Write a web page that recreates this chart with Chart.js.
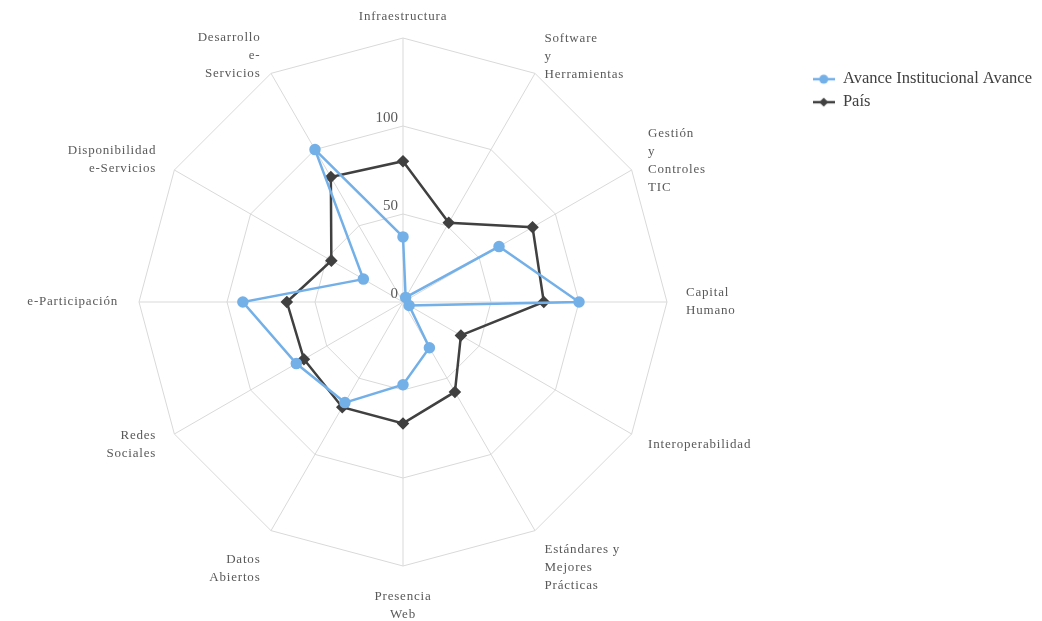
<!DOCTYPE html>
<html>
<head>
<meta charset="utf-8">
<script src="https://cdn.jsdelivr.net/npm/chart.js@4"></script>
<style>
  html, body { margin: 0; padding: 0; background: #fff; }
  #wrap { width: 1042px; height: 621px; position: relative; }
</style>
</head>
<body>
<div id="wrap"><canvas id="radarChart"></canvas></div>
<script>
// categories and series
const categories = [
    'Infraestructura',
    ['Software', 'y', 'Herramientas'],
    ['Gestión', 'y', 'Controles', 'TIC'],
    ['Capital', 'Humano'],
    'Interoperabilidad',
    ['Estándares y', 'Mejores', 'Prácticas'],
    ['Presencia', 'Web'],
    ['Datos', 'Abiertos'],
    ['Redes', 'Sociales'],
    'e-Participación',
    ['Disponibilidad', 'e-Servicios'],
    ['Desarrollo', 'e-', 'Servicios']
];
const avanceInstitucional = [37, 3, 63, 100, 4, 30, 47, 66, 70, 91, 26, 100];
const pais = [80, 52, 85, 80, 38, 59, 69, 69, 65, 66, 47, 82];
const tickValues = [0, 50, 100];

const blue = '#74b0e8';
const dark = '#404040';
const serif = "'Liberation Serif', 'DejaVu Serif', serif";

// small legend marker: line with the point style on it
function legendIcon(color, style) {
    const c = document.createElement('canvas');
    c.width = 22; c.height = 12;
    const g = c.getContext('2d');
    g.strokeStyle = color; g.fillStyle = color; g.lineWidth = 2.5;
    g.beginPath(); g.moveTo(0, 6); g.lineTo(22, 6); g.stroke();
    g.beginPath();
    if (style === 'circle') {
        g.arc(11, 6, 4.5, 0, Math.PI * 2);
    } else {
        g.moveTo(11, 1.5); g.lineTo(15.5, 6); g.lineTo(11, 10.5); g.lineTo(6.5, 6); g.closePath();
    }
    g.fill();
    return c;
}

// tick labels left of the vertical axis and the category labels around the web
const labelsPlugin = {
    id: 'radarLabels',
    afterDatasetsDraw(chart) {
        const scale = chart.scales.r;
        const ctx = chart.ctx;
        ctx.save();
        ctx.font = '15px ' + serif;
        ctx.fillStyle = '#595959';
        ctx.textAlign = 'right';
        ctx.textBaseline = 'middle';
        tickValues.forEach(v => {
            const d = scale.getDistanceFromCenterForValue(v);
            ctx.fillText(String(v), scale.xCenter - 5, scale.yCenter - d - 8);
        });

        ctx.font = '13px ' + serif;
        ctx.letterSpacing = '0.8px';
        const lineH = 18;
        const n = categories.length;
        categories.forEach((lab, i) => {
            const lines = Array.isArray(lab) ? lab : [lab];
            const dx0 = scale.getPointPosition(i, 100).x - scale.xCenter;
            const left = dx0 < -5;
            const pad = left ? 21 : 19;
            const p = scale.getPointPosition(i, scale.drawingArea + pad);
            const deg = (360 / n) * i;
            const dx = p.x - scale.xCenter;
            const dy = p.y - scale.yCenter;
            ctx.textAlign = dx > 5 ? 'left' : (dx < -5 ? 'right' : 'center');
            const h = lines.length * lineH;
            let top;
            if (deg === 0) top = p.y - h + 7;
            else if (deg === 180) top = p.y + 3;
            else if (Math.abs(deg - 180) <= 30) top = p.y + 20 - h / 2;
            else if (dy < -5) top = p.y - h / 2 + (left ? 0.5 : 0);
            else if (dy > 5) top = p.y - h / 2 + (left ? 0 : 1);
            else top = p.y - h / 2;
            lines.forEach((t, k) => {
                ctx.fillText(t, p.x, top + lineH * k + lineH / 2);
            });
        });
        ctx.restore();
    }
};

function initializeRadarChart() {
    const ctx = document.getElementById('radarChart').getContext('2d');

    const data = {
        labels: categories,
        datasets: [{
            label: 'Avance Institucional Avance',
            data: avanceInstitucional,
            borderColor: blue,
            backgroundColor: blue,
            pointBackgroundColor: blue,
            pointBorderColor: blue,
            pointStyle: 'circle',
            pointRadius: 4.5,
            borderWidth: 2.5,
            fill: false
        }, {
            label: 'País',
            data: pais,
            borderColor: dark,
            backgroundColor: dark,
            pointBackgroundColor: dark,
            pointBorderColor: dark,
            pointStyle: 'rectRot',
            pointRadius: 4.5,
            borderWidth: 2.5,
            fill: false
        }]
    };

    const config = {
        type: 'radar',
        data: data,
        plugins: [labelsPlugin],
        options: {
            responsive: true,
            maintainAspectRatio: false,
            animation: false,
            layout: {
                padding: { top: 38, bottom: 55, left: -9, right: 0 }
            },
            plugins: {
                legend: {
                    position: 'right',
                    align: 'start',
                    title: {
                        display: true,
                        text: ' ',
                        padding: 6
                    },
                    labels: {
                        color: '#404040',
                        font: { family: serif, size: 16.5 },
                        usePointStyle: true,
                        pointStyleWidth: 22,
                        padding: 6.5,
                        generateLabels(chart) {
                            return chart.data.datasets.map((ds, i) => ({
                                text: ds.label,
                                fontColor: '#404040',
                                pointStyle: legendIcon(ds.borderColor, ds.pointStyle),
                                hidden: false,
                                datasetIndex: i,
                                lineWidth: 0,
                                strokeStyle: 'transparent',
                                fillStyle: 'transparent'
                            }));
                        }
                    }
                },
                tooltip: { enabled: false }
            },
            scales: {
                r: {
                    min: 0,
                    max: 150,
                    beginAtZero: true,
                    ticks: {
                        stepSize: 50,
                        display: false
                    },
                    grid: { color: '#d9d9d9', lineWidth: 1 },
                    angleLines: { color: '#d9d9d9', lineWidth: 1 },
                    pointLabels: { display: false }
                }
            }
        }
    };

    new Chart(ctx, config);
}

document.addEventListener('DOMContentLoaded', initializeRadarChart);
</script>
</body>
</html>
